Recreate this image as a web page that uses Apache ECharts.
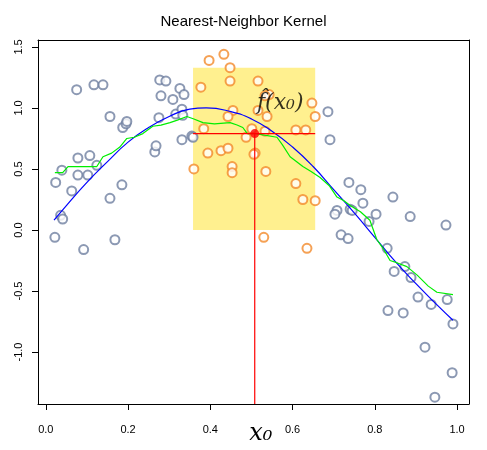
<!DOCTYPE html><html><head><meta charset="utf-8"><script src="https://cdn.jsdelivr.net/npm/echarts@6/dist/echarts.min.js"></script></head><body style="margin:0"><div id="c" style="width:487px;height:450px"></div><script>
const grayPts=[[0.022,-0.06],[0.024,0.39],[0.036,0.12],[0.041,0.09],[0.039,0.49],[0.063,0.32],[0.075,1.15],[0.078,0.45],[0.078,0.59],[0.092,-0.16],[0.102,0.45],[0.107,0.61],[0.117,1.19],[0.139,1.19],[0.124,0.53],[0.156,0.93],[0.156,0.26],[0.168,-0.08],[0.185,0.37],[0.187,0.84],[0.195,0.87],[0.197,0.89],[0.265,0.64],[0.268,0.69],[0.275,0.92],[0.277,1.23],[0.28,1.10],[0.292,1.22],[0.316,0.95],[0.309,1.07],[0.331,0.74],[0.326,1.16],[0.336,1.11],[0.331,0.99],[0.333,0.94],[0.355,0.77],[0.358,0.76],[0.686,0.97],[0.691,0.74],[0.737,0.39],[0.766,0.33],[0.844,0.27],[0.771,0.22],[0.708,0.16],[0.703,0.13],[0.740,0.17],[0.745,0.16],[0.803,0.13],[0.886,0.11],[0.973,0.04],[0.786,0.07],[0.718,-0.04],[0.735,-0.07],[0.830,-0.15],[0.873,-0.30],[0.888,-0.39],[0.847,-0.34],[0.905,-0.55],[0.937,-0.61],[0.976,-0.57],[0.990,-0.77],[0.832,-0.66],[0.869,-0.68],[0.922,-0.96],[0.988,-1.17],[0.946,-1.37]];
const orangePts=[[0.397,1.39],[0.433,1.44],[0.448,1.33],[0.448,1.22],[0.377,1.17],[0.516,1.22],[0.543,1.11],[0.533,1.10],[0.516,0.98],[0.455,0.98],[0.443,0.93],[0.538,0.93],[0.647,1.04],[0.655,0.93],[0.384,0.83],[0.501,0.83],[0.487,0.76],[0.533,0.81],[0.608,0.82],[0.632,0.82],[0.394,0.63],[0.426,0.65],[0.443,0.67],[0.509,0.63],[0.506,0.62],[0.36,0.50],[0.453,0.52],[0.453,0.47],[0.535,0.48],[0.608,0.38],[0.625,0.25],[0.655,0.24],[0.530,-0.06],[0.635,-0.15]];
const trueCurve=[[0.02,0.08],[0.05,0.20],[0.1,0.39],[0.15,0.56],[0.2,0.72],[0.25,0.84],[0.3,0.93],[0.35,0.99],[0.39,1.0],[0.45,0.97],[0.5,0.91],[0.55,0.81],[0.6,0.68],[0.65,0.52],[0.7,0.33],[0.75,0.14],[0.8,-0.06],[0.85,-0.26],[0.9,-0.44],[0.95,-0.61],[0.99,-0.74]];
const nnFit=[[0.022,0.47],[0.041,0.47],[0.054,0.52],[0.124,0.52],[0.139,0.60],[0.16,0.63],[0.18,0.68],[0.197,0.75],[0.215,0.76],[0.236,0.79],[0.26,0.85],[0.28,0.86],[0.302,0.88],[0.32,0.90],[0.343,0.93],[0.36,0.91],[0.382,0.88],[0.41,0.87],[0.448,0.88],[0.465,0.86],[0.479,0.84],[0.49,0.79],[0.51,0.79],[0.528,0.78],[0.562,0.76],[0.575,0.70],[0.594,0.60],[0.61,0.56],[0.625,0.52],[0.645,0.48],[0.667,0.43],[0.69,0.36],[0.708,0.27],[0.725,0.24],[0.74,0.20],[0.765,0.15],[0.788,0.08],[0.805,-0.08],[0.82,-0.15],[0.837,-0.25],[0.855,-0.27],[0.878,-0.30],[0.903,-0.37],[0.93,-0.46],[0.951,-0.51],[0.99,-0.53]];
const x0=0.508, fx0=0.79, boxX=[0.358,0.655], boxY=[0,1.33];
const xTicks=[0,0.2,0.4,0.6,0.8,1.0], yTicks=[-1.0,-0.5,0,0.5,1.0,1.5];
const ch=echarts.init(document.getElementById('c'));
const ax={color:'#000'};
const xr={min:-0.019,max:1.029}, yr={min:-1.426,max:1.557};
ch.setOption({animation:false,
title:{text:'Nearest-Neighbor Kernel',left:'center',top:9,textStyle:{fontSize:15,fontWeight:'normal',fontFamily:'Liberation Sans',color:'#000'}},
grid:{left:38,top:40,width:431,height:364},
xAxis:[{type:'value',...xr,splitLine:{show:false},axisLine:{onZero:false,lineStyle:ax},
 axisTick:{customValues:xTicks,length:6,lineStyle:ax},axisLabel:{customValues:xTicks,formatter:v=>v.toFixed(1),color:'#000',fontSize:11,margin:20}},
 {type:'value',position:'top',...xr,splitLine:{show:false},axisLine:{onZero:false,lineStyle:ax},axisTick:{show:false},axisLabel:{show:false}}],
yAxis:[{type:'value',...yr,splitLine:{show:false},axisLine:{onZero:false,lineStyle:ax},
 axisTick:{customValues:yTicks,length:6,lineStyle:ax},axisLabel:{customValues:yTicks,formatter:v=>v.toFixed(1),color:'#000',fontSize:11,rotate:90,margin:14}},
 {type:'value',position:'right',...yr,splitLine:{show:false},axisLine:{onZero:false,lineStyle:ax},axisTick:{show:false},axisLabel:{show:false}}],
series:[
{type:'line',data:[],markArea:{silent:true,itemStyle:{color:'#fff08f'},data:[[{coord:[boxX[0],boxY[0]]},{coord:[boxX[1],boxY[1]]}]]}},
{type:'scatter',data:grayPts,symbol:'emptyCircle',symbolSize:9,itemStyle:{color:'#6f80a0',borderWidth:1.3}},
{type:'scatter',data:orangePts,symbol:'emptyCircle',symbolSize:9,itemStyle:{color:'#f28a2a',borderWidth:1.3}},
{type:'line',data:trueCurve,smooth:true,symbol:'none',lineStyle:{color:'#0000ff',width:1.2}},
{type:'line',data:nnFit,symbol:'none',lineStyle:{color:'#00ee00',width:1.2}},
{type:'line',data:[[boxX[0],fx0],[boxX[1],fx0]],symbol:'none',lineStyle:{color:'#ff0000',width:1.3},z:5},
{type:'line',data:[[x0,fx0],[x0,-1.426]],symbol:'none',lineStyle:{color:'#ff0000',width:1.2}},
{type:'scatter',data:[[x0,fx0]],symbolSize:9,itemStyle:{color:'#ff0000'},z:10},
{type:'scatter',data:[[0.57,1.04]],symbolSize:0,label:{show:true,formatter:'f̂(x₀)',fontFamily:'DejaVu Serif',fontStyle:'italic',fontSize:22,color:'#000'}}
]});
const p=ch.convertToPixel({gridIndex:0},[x0,-1.426]);
ch.setOption({graphic:[{type:'text',x:p[0]+6,y:p[1]+30,style:{text:'x₀',font:'italic 24px DejaVu Serif',fill:'#000',textAlign:'center',textVerticalAlign:'middle'}}]});
</script></body></html>
